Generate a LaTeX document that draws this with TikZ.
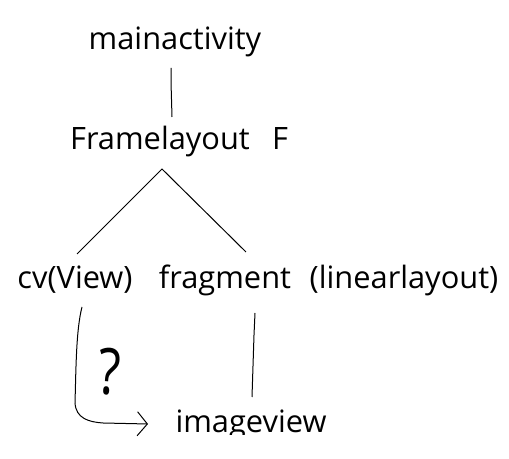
\documentclass[tikz,border=0pt]{standalone}
\usepackage{fontspec}
\setmainfont{Open Sans}
\usetikzlibrary{calc,arrows.meta}

\tikzset{
  lbl/.style={font=\fontsize{15.4}{18}\selectfont, inner sep=0pt, anchor=base},
  link/.style={line width=0.5pt},
}

\begin{document}
\begin{tikzpicture}[x=0.5pt,y=-0.5pt]
    \useasboundingbox (0,0) rectangle (509,459);
    % the tree
    \node[lbl] (main) at (175,50) {mainactivity};
    \node[lbl] (frame) at (160,150) {Framelayout};
    \node[lbl] (ff) at (280,150) {F};
    \node[lbl] (cv) at (75,289) {cv(View)};
    \node[lbl] (frag) at (225,289) {fragment};
    \node[lbl] (lin) at (404,289) {(linearlayout)};
    \begin{scope}
        \clip (0,0) rectangle (509,435);
        \node[lbl] (img) at (251,433) {imageview};
    \end{scope}
    \node[lbl, font=\fontsize{32}{36}\selectfont, xscale=0.8, rotate=-4] (q) at (108,394) {?};

    \coordinate (apex) at ($(frame.base)+(2,19)$);
    \draw[link] ($(main.base)+(-4,18)$) -- ++(0,14) -- ($(frame.base)+(12,-33)$);
    \draw[link] ($(cv.base)+(2,-35)$) -- (apex) -- ($(frag.base)+(21,-37)$);
    \draw[link] ($(frag.base)+(30,24)$) -- ++(-1,22) -- ($(img.base)+(1,-36)$);
    \draw[link, -{Straight Barb[length=5pt,width=12pt]}]
        ($(cv.base)+(7,18)$) .. controls (76,330) and (76,370) .. (75,403)
        .. controls (76,418) and (88,422) .. (103,423) -- ($(img.base)+(-103,-9)$);
\end{tikzpicture}
\end{document}
